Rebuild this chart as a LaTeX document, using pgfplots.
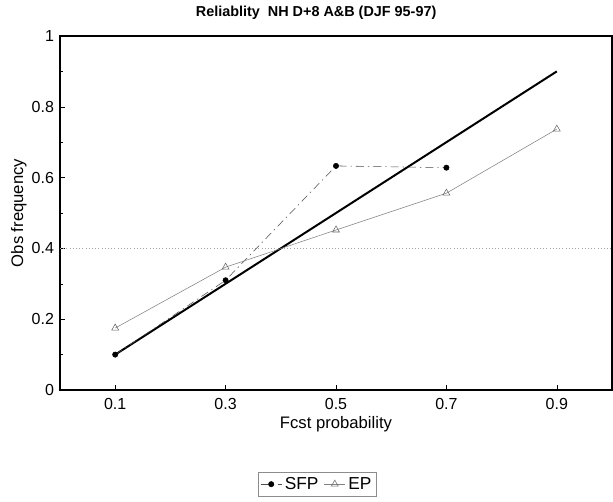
\documentclass[border=0pt]{standalone}
\usepackage{fontspec}
\setmainfont{Liberation Sans}
\usepackage{pgfplots}
\pgfplotsset{compat=1.18}

\begin{document}
\begin{tikzpicture}
% page size: 613x502 px at 0.75pt per px
\useasboundingbox (-45pt,-84pt) rectangle (414.75pt,292.5pt);
\begin{axis}[
  at={(0,0)}, anchor=south west,
  scale only axis,
  width=414pt, height=265.5pt,
  xmin=0, xmax=1, ymin=0, ymax=1,
  xtick={0.1,0.3,0.5,0.7,0.9},
  ytick={0,0.2,0.4,0.6,0.8,1},
  minor y tick num=1,
  tick align=inside,
  tick pos=left,
  major tick length=4pt, minor tick length=2.5pt,
  axis line style={line width=1.2pt},
  every tick/.style={black, thin},
  /pgf/number format/assume math mode=true,
  ticklabel style={font=\fontsize{12}{14}\selectfont},
  xticklabel style={yshift=-3pt},
  yticklabel style={xshift=-1pt},
  xlabel={Fcst probability},
  ylabel={Obs frequency},
  label style={font=\fontsize{12.5}{14}\selectfont},
  xlabel style={yshift=2pt},
  ylabel style={yshift=-3pt},
  title={Reliablity\ \ NH D+8 A\&B (DJF 95-97)},
  title style={font=\bfseries\fontsize{10.8}{12}\selectfont, at={(0.464,1)}, yshift=3pt},
  extra y ticks={0.4},
  extra y tick labels={},
  extra y tick style={grid=major, major grid style={black!35, dotted, thin}, major tick length=0pt},
  legend columns=2,
  legend style={at={(0.466,-0.266)}, anchor=center, draw=black!45, thin,
    font=\fontsize{13}{15}\selectfont, inner sep=1.5pt,
    /tikz/every even column/.append style={column sep=2pt}},
  legend image code/.code={\draw[#1] (0pt,0pt) -- (8pt,0pt) -- (16pt,0pt); \draw[#1, mark repeat=1] plot coordinates {(8pt,0pt)};},
]
% perfect reliability diagonal
\addplot[black, line width=1.5pt, forget plot] coordinates {(0.1,0.1) (0.9,0.9)};
% SFP
\addplot[black!70, thin, dash pattern=on 6pt off 3pt on 1pt off 3pt,
  mark=*, mark size=2pt, mark options={solid, fill=black, draw=black}]
  coordinates {(0.1,0.10) (0.3,0.31) (0.5,0.633) (0.7,0.628)};
\addlegendentry{SFP}
% EP
\addplot[black!50, thin, mark=triangle, mark size=3pt, mark options={solid, black!60}]
  coordinates {(0.1,0.175) (0.3,0.347) (0.5,0.452) (0.7,0.556) (0.9,0.737)};
\addlegendentry{EP}
\end{axis}
\end{tikzpicture}
\end{document}
